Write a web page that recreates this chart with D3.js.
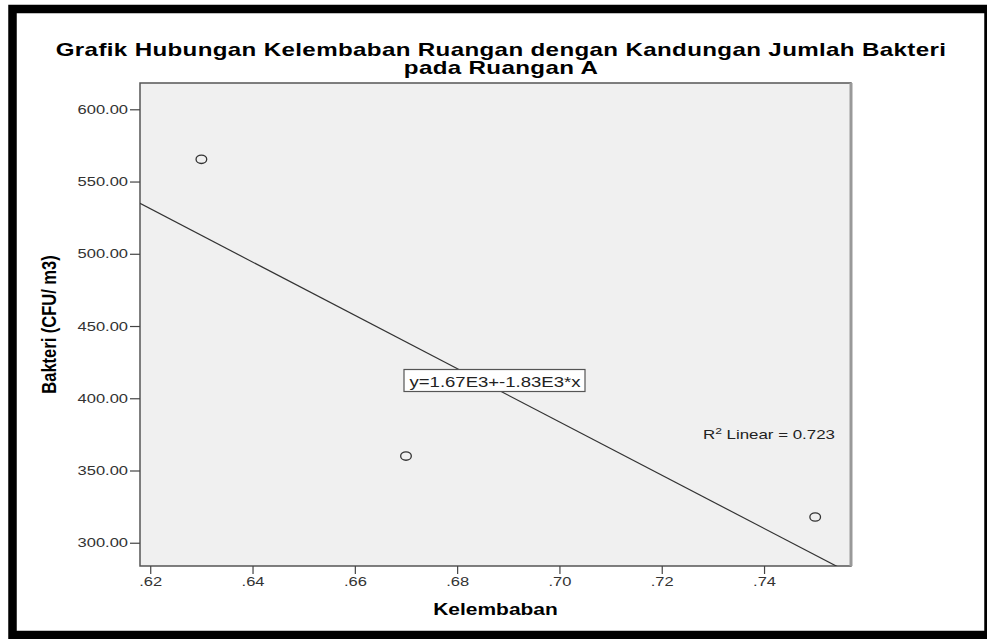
<!DOCTYPE html>
<html>
<head>
<meta charset="utf-8">
<script src="https://cdn.jsdelivr.net/npm/d3@7"></script>
<style>
  body { margin: 0; background: #fff; }
  svg text { font-family: "Liberation Sans", Arial, sans-serif; }
</style>
</head>
<body>
<div id="chart"></div>
<script>
// data
const kelembaban = [0.63, 0.67, 0.75];
const bakteri = [565.4, 360.0, 317.8];
const xTicks = [0.62, 0.64, 0.66, 0.68, 0.70, 0.72, 0.74];
const yTicks = [300, 350, 400, 450, 500, 550, 600];
const titleLines = ["Grafik Hubungan Kelembaban Ruangan dengan Kandungan Jumlah Bakteri", "pada Ruangan A"];
const eqLabel = "y=1.67E3+-1.83E3*x";
const r2Value = "0.723";

const W = 987, H = 639;
const plot = {l: 140, r: 851, t: 83, b: 566};
const SX = 1.27; // the picture is stretched sideways

const svg = d3.select("#chart").append("svg")
  .attr("width", W)
  .attr("height", H);

svg.append("rect").attr("width", W).attr("height", H).attr("fill", "#fff");

// outer black frame
svg.append("rect")
  .attr("x", 12.5).attr("y", 9)
  .attr("width", 976).attr("height", 626)
  .attr("fill", "none")
  .attr("stroke", "#000")
  .attr("stroke-width", 8.5);

const x = d3.scaleLinear().domain([0.6180, 0.7570]).range([plot.l, plot.r]);
const y = d3.scaleLinear().domain([283.9, 618.2]).range([plot.b, plot.t]);

// stretched text helper
function label(x0, y0, txt, size, weight, anchor, color, sx) {
  const g = svg.append("g").attr("transform", `translate(${x0},${y0}) scale(${sx || SX},1)`);
  return g.append("text")
    .attr("text-anchor", anchor || "middle")
    .attr("font-size", size)
    .attr("font-weight", weight || "normal")
    .attr("fill", color || "#000")
    .text(txt);
}

// title
label(501, 56, titleLines[0], 17.5, "bold", "middle", "#000", 1.38).attr("letter-spacing", 0.25);
label(501, 74, titleLines[1], 17.5, "bold", "middle", "#000", 1.38).attr("letter-spacing", 0.25);

// plot background
svg.append("rect")
  .attr("x", plot.l).attr("y", plot.t)
  .attr("width", plot.r - plot.l).attr("height", plot.b - plot.t)
  .attr("fill", "#f0f0f0")
  .attr("stroke", "#555")
  .attr("stroke-width", 1.5);
svg.append("line")
  .attr("x1", plot.r).attr("x2", plot.r)
  .attr("y1", plot.t).attr("y2", plot.b)
  .attr("stroke", "#999").attr("stroke-width", 3);

// axes
const yAxis = svg.append("g")
  .attr("transform", `translate(${plot.l},0)`)
  .call(d3.axisLeft(y).tickValues(yTicks).tickSize(10).tickPadding(2).tickFormat(d3.format(".2f")));
yAxis.select(".domain").remove();
yAxis.selectAll("line").attr("stroke", "#444").attr("stroke-width", 1.2);
yAxis.selectAll("text")
  .attr("x", -12 / SX)
  .attr("transform", `scale(${SX},1)`)
  .attr("font-size", 13)
  .attr("font-family", "Liberation Sans, Arial, sans-serif")
  .attr("fill", "#333");

const xAxis = svg.append("g")
  .attr("transform", `translate(0,${plot.b})`)
  .call(d3.axisBottom(x).tickValues(xTicks).tickSize(8).tickPadding(3)
    .tickFormat(d => d3.format(".2f")(d).replace(/^0/, "")));
xAxis.select(".domain").remove();
xAxis.selectAll("line").attr("stroke", "#444").attr("stroke-width", 1.2);
xAxis.selectAll("text")
  .attr("transform", `scale(${SX},1)`)
  .attr("font-size", 13)
  .attr("font-family", "Liberation Sans, Arial, sans-serif")
  .attr("fill", "#333");

// axis titles
label((plot.l + plot.r) / 2, 615, "Kelembaban", 16.5, "bold");
svg.append("g")
  .attr("transform", `translate(56,${(plot.t + plot.b) / 2}) scale(${SX},1) rotate(-90)`)
  .append("text")
  .attr("text-anchor", "middle")
  .attr("font-size", 16.5)
  .attr("font-weight", "bold")
  .text("Bakteri (CFU/ m3)");

// linear fit from the points
const mx = d3.mean(kelembaban), my = d3.mean(bakteri);
const slope = d3.sum(kelembaban, (v, i) => (v - mx) * (bakteri[i] - my)) /
  d3.sum(kelembaban, v => (v - mx) * (v - mx));
const icpt = my - slope * mx;

svg.append("clipPath").attr("id", "clip")
  .append("rect")
  .attr("x", plot.l).attr("y", plot.t)
  .attr("width", plot.r - plot.l).attr("height", plot.b - plot.t);

const xd = x.domain();
svg.append("line")
  .attr("clip-path", "url(#clip)")
  .attr("x1", x(xd[0])).attr("y1", y(icpt + slope * xd[0]))
  .attr("x2", x(xd[1])).attr("y2", y(icpt + slope * xd[1]))
  .attr("stroke", "#333")
  .attr("stroke-width", 1.2);

// points
svg.selectAll(".pt")
  .data(kelembaban)
  .enter()
  .append("ellipse")
  .attr("class", "pt")
  .attr("cx", d => x(d))
  .attr("cy", (d, i) => y(bakteri[i]))
  .attr("rx", 4.2 * SX)
  .attr("ry", 4.2)
  .attr("fill", "none")
  .attr("stroke", "#333")
  .attr("stroke-width", 1.3);

// equation box
const ex = 495, ey = 381;
svg.append("rect")
  .attr("x", 404).attr("y", 369.5)
  .attr("width", 181).attr("height", 22)
  .attr("fill", "#fff")
  .attr("stroke", "#555")
  .attr("stroke-width", 1.2);
label(ex, ey + 5.5, eqLabel, 14.6, "normal", "middle", "#222");

// R2 label
const r2 = label(703, 439, "", 13.3, "normal", "start", "#222");
r2.append("tspan").text("R");
r2.append("tspan").attr("font-size", 9.5).attr("dy", -5).text("2");
r2.append("tspan").attr("dy", 5).text(" Linear = " + r2Value);
</script>
</body>
</html>
